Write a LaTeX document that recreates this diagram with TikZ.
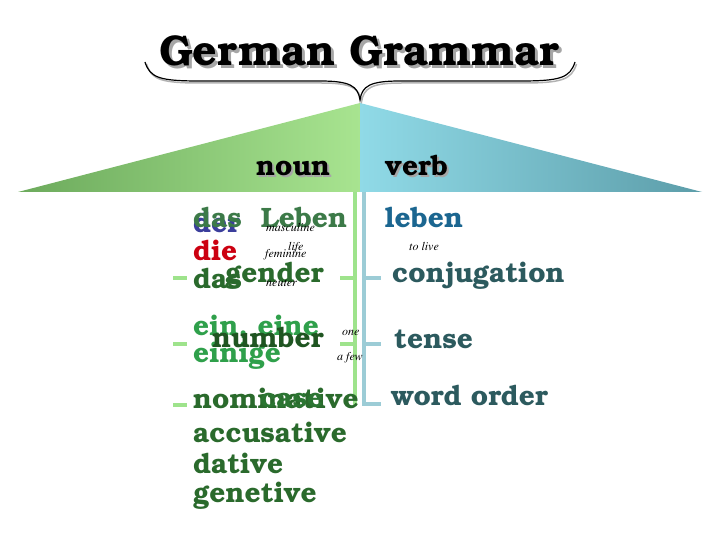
\documentclass[tikz,border=0pt]{standalone}
\usepackage[T1]{fontenc}
\usepackage{bookman}
\definecolor{nounleft}{HTML}{6CAA5C}
\definecolor{nounright}{HTML}{A8E490}
\definecolor{verbleft}{HTML}{90DAE7}
\definecolor{verbright}{HTML}{5C9DA9}
\definecolor{greenline}{HTML}{9EE38C}
\definecolor{blueline}{HTML}{9CCCD6}
\definecolor{leafgreen}{HTML}{3C7A48}
\definecolor{darkgreen}{HTML}{2A6A2C}
\definecolor{deepgreen}{HTML}{1F5521}
\definecolor{lightgreen}{HTML}{2FA04B}
\definecolor{derblue}{HTML}{3B3E9C}
\definecolor{diered}{HTML}{CC0010}
\definecolor{lebenblue}{HTML}{1B6690}
\definecolor{verbteal}{HTML}{2C5A5E}
\begin{document}
\begin{tikzpicture}[x=1pt,y=-1pt,
  word/.style={anchor=base west,inner sep=0pt,font=\fontsize{28}{30}\selectfont\bfseries},
  head/.style={anchor=base west,inner sep=0pt,font=\fontsize{28}{30}\selectfont\bfseries},
  gloss/.style={anchor=base west,inner sep=0pt,font=\fontfamily{ptm}\fontsize{12}{14}\selectfont\itshape},
  tick/.style={line width=4pt}
 ]
\useasboundingbox (0,0) rectangle (720,540);

% title and brace
\node[anchor=base,inner sep=0pt,text=gray!70,font=\fontsize{43}{46}\selectfont\bfseries] at (362,69) {German Grammar};
\node[anchor=base,inner sep=0pt,font=\fontsize{43}{46}\selectfont\bfseries] (title) at (359,66) {German Grammar};
\draw[gray!60,line width=1.5pt,xshift=1.5pt,yshift=-2pt] (145,62) .. controls (150,78) and (160,81) .. (200,81) -- (320,81) .. controls (350,81) and (358,86) .. (360,100) .. controls (362,86) and (370,81) .. (400,81) -- (520,81) .. controls (560,81) and (570,78) .. (575,62);
\draw[line width=1.2pt] (145,62) .. controls (150,78) and (160,81) .. (200,81) -- (320,81) .. controls (350,81) and (358,86) .. (360,100) .. controls (362,86) and (370,81) .. (400,81) -- (520,81) .. controls (560,81) and (570,78) .. (575,62);

% roof
\coordinate (apex) at (360,103);
\coordinate (mid) at (360,192);
\shade[left color=nounleft,right color=nounright] (apex) -- (18,192) -- (mid) -- cycle;
\shade[left color=verbleft,right color=verbright] (apex) -- (mid) -- (702,192) -- cycle;
\node[head,text=gray!70] at (258,178) {noun};
\node[head] (noun) at (256,176) {noun};
\node[head,text=gray!70] at (387,178) {verb};
\node[head] (verb) at (385,176) {verb};

% tree lines
\draw[tick,greenline] (355,192) -- (355,406);
\draw[tick,blueline] (364,192) -- (364,404) -- (381,404);
\foreach \y in {278,344} {
  \draw[tick,greenline] (173,\y) -- (187,\y);
  \draw[tick,greenline] (340,\y) -- (353,\y);
  \draw[tick,blueline] (366,\y) -- (381,\y);
}
\draw[tick,greenline] (173,405) -- (187,405);

% noun side
\node[word,text=derblue] (der) at (193,233) {der};
\node[word,text=leafgreen] (dasLeben) at (193,228) {das\ \ Leben};
\node[gloss] (masc) at (266,232) {masculine};
\node[gloss] (life) at (288,250) {life};
\node[word,text=diered] (die) at (193,260) {die};
\node[gloss] (fem) at (265,257) {feminine};
\node[word,text=darkgreen] (das) at (193,288) {das};
\node[word,text=darkgreen] (gender) at (225,282) {gender};
\node[gloss] (neut) at (266,286) {neuter};
\node[word,text=lightgreen] (ein) at (193,335) {ein, eine};
\node[word,text=lightgreen] (einige) at (193,362) {einige};
\node[word,text=deepgreen] (number) at (212,347) {number};
\node[gloss] (one) at (342,335) {one};
\node[gloss] (few) at (337,360) {a few};
\node[word,text=darkgreen] (nom) at (193,408) {nominative};
\node[word,text=darkgreen!80!lightgreen] (case) at (260,407) {case};
\node[word,text=darkgreen] (acc) at (193,442) {accusative};
\node[word,text=darkgreen] (dat) at (193,473) {dative};
\node[word,text=darkgreen] (gen) at (193,502) {genetive};

% verb side
\node[word,text=lebenblue] (leben) at (385,228) {leben};
\node[gloss] (live) at (409,250) {to live};
\node[word,text=verbteal] (conj) at (392,282) {conjugation};
\node[word,text=verbteal] (tense) at (394,348) {tense};
\node[word,text=verbteal] (order) at (391,405) {word order};

\end{tikzpicture}
\end{document}
